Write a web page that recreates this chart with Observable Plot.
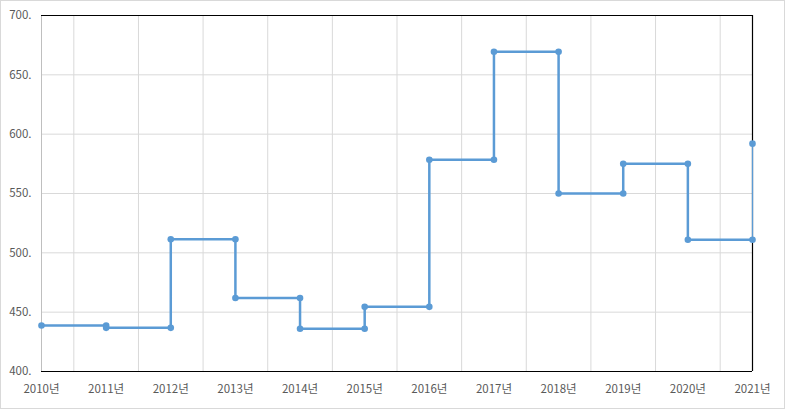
<!DOCTYPE html>
<html>
<head>
<meta charset="utf-8">
<script src="https://cdn.jsdelivr.net/npm/d3@7"></script>
<script src="https://cdn.jsdelivr.net/npm/@observablehq/plot@0.6"></script>
<style>
  body { margin: 0; background: #fff; }
  #chart svg { display: block; outline: 1px solid #d9d9d9; outline-offset: -1px; }
</style>
</head>
<body>
<div id="chart"></div>
<script>
const years = [2010, 2011, 2012, 2013, 2014, 2015, 2016, 2017, 2018, 2019, 2020, 2021];
const values = [438.8, 436.8, 511.5, 462, 436, 454.5, 578.5, 669.5, 550, 575, 511, 592];
const yTicks = [400, 450, 500, 550, 600, 650, 700];
const halfYears = years.slice(0, -1).map(y => y + 0.5);

// step sequence: at each year, previous value then new value
const pts = [{x: years[0], y: values[0]}];
for (let i = 1; i < years.length; i++) {
  pts.push({x: years[i], y: values[i - 1]});
  pts.push({x: years[i], y: values[i]});
}
const blue = "#5B9BD5";

const chart = Plot.plot({
  width: 785,
  height: 409,
  marginLeft: 41,
  marginRight: 33,
  marginTop: 15,
  marginBottom: 38,
  style: {fontFamily: "'Noto Sans CJK KR', 'Noto Sans', sans-serif", fontSize: "11.5px", color: "#595959", background: "#fff"},
  x: {domain: [2010, 2021]},
  y: {domain: [400, 700]},
  marks: [
    Plot.ruleY(yTicks.slice(1, -1), {stroke: "#d9d9d9", strokeWidth: 1}),
    Plot.ruleX(halfYears, {stroke: "#d9d9d9", strokeWidth: 1}),
    Plot.ruleX([2010], {stroke: "#bfbfbf", strokeWidth: 1}),
    Plot.ruleY([400], {stroke: "#000", strokeWidth: 1.2}),
    Plot.ruleY([700], {stroke: "#000", strokeWidth: 1.2}),
    Plot.ruleX([2021], {stroke: "#000", strokeWidth: 1.2}),
    Plot.axisY({ticks: yTicks, tickSize: 0, tickPadding: 10, tickFormat: d => d + ".", fill: "#595959", label: null}),
    Plot.axisX({ticks: years, tickSize: 0, tickPadding: 13, tickFormat: d => d + "년", fill: "#595959", label: null}),
    Plot.line(pts.slice(0, -1), {x: "x", y: "y", stroke: blue, strokeWidth: 2.5}),
    Plot.line(pts.slice(-2), {x: "x", y: "y", stroke: blue, strokeWidth: 1.2}),
    Plot.dot(pts, {x: "x", y: "y", r: 3.3, fill: blue, stroke: "none"})
  ]
});
document.getElementById("chart").append(chart);
</script>
</body>
</html>
